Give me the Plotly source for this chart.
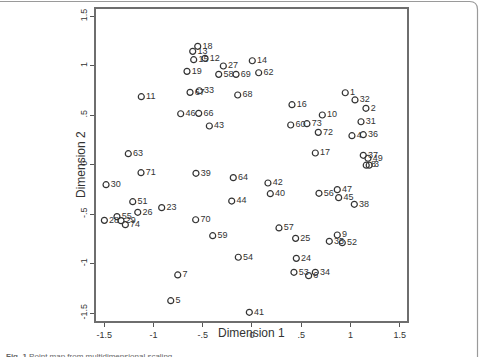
import plotly.graph_objects as go

labels = ["1","2","3","4","5","6","7","8","9","10","11","12","13","14","15","16","17","18","19",
          "23","24","25","26","27","28","29","30","31","32","33","34","35","36","37","38","39",
          "40","41","42","43","44","45","46","47","49","51","52","53","54","55","56","57","58",
          "59","60","62","63","64","66","67","68","69","70","71","72","73","74"]
dim1 = [0.947,1.157,1.19,1.015,-0.825,0.575,-0.754,1.16,0.866,0.714,-1.124,-0.477,-0.602,0.003,-0.592,0.406,0.643,-0.551,-0.66,
        -0.917,0.45,0.443,-1.16,-0.291,-1.499,-1.33,-1.482,1.107,1.046,-0.535,0.643,0.785,1.13,1.13,1.039,-0.569,
        0.186,-0.027,0.162,-0.433,-0.206,0.88,-0.724,0.866,1.178,-1.211,0.917,0.426,-0.139,-1.371,0.68,0.274,-0.338,
        -0.399,0.393,0.068,-1.256,-0.19,-0.541,-0.629,-0.145,-0.162,-0.572,-1.127,0.673,0.558,-1.286]
dim2 = [0.727,0.57,-0.005,0.293,-1.374,-1.121,-1.114,-0.005,-0.71,0.502,0.687,1.075,1.145,1.05,1.061,0.606,0.118,1.196,0.943,
        -0.434,-0.946,-0.744,-0.481,0.997,-0.562,-0.565,-0.202,0.434,0.654,0.747,-1.087,-0.774,0.303,0.095,-0.4,-0.087,
        -0.293,-1.491,-0.185,0.391,-0.367,-0.333,0.515,-0.252,0.065,-0.374,-0.788,-1.087,-0.935,-0.525,-0.289,-0.639,0.913,
        -0.717,0.401,0.929,0.111,-0.131,0.519,0.731,0.704,0.913,-0.556,-0.081,0.327,0.414,-0.606]

tick_vals = [-1.5, -1, -0.5, 0, 0.5, 1, 1.5]
tick_text = ["-1.5", "-1", "-.5", "0", ".5", "1", "1.5"]

fig = go.Figure()
fig.add_trace(go.Scatter(
    x=dim1, y=dim2, text=labels, mode="markers+text",
    textposition="middle right",
    textfont=dict(family="Liberation Sans, Arial", size=9, color="#333333"),
    marker=dict(symbol="circle-open", size=6, color="#333333", line=dict(width=1.2, color="#333333")),
    cliponaxis=False, hoverinfo="skip",
))

axis_common = dict(
    tickvals=tick_vals, ticktext=tick_text, showgrid=False, zeroline=False,
    showline=True, mirror=True, linecolor="#6e6e6e", linewidth=1.5,
    ticks="outside", ticklen=4, tickwidth=1, tickcolor="#555555", automargin=False,
    tickfont=dict(family="Liberation Sans, Arial", size=9, color="#333333"),
)

fig.update_xaxes(range=[-1.584, 1.574], **axis_common)
fig.update_yaxes(range=[-1.579, 1.573], tickangle=-90, **axis_common)

W, H = 479, 357
L, R, T, B = 96, 72, 9, 36
pw, ph = W - L - R, H - T - B

def px(x):
    return (x - L) / pw

def py(y):
    return (H - B - y) / ph

fig.add_annotation(x=px(251), y=py(342), xref="paper", yref="paper", text="Dimension 1",
                   showarrow=False, font=dict(family="Liberation Sans, Arial", size=12, color="#333333"))
fig.add_annotation(x=px(72), y=py(165), xref="paper", yref="paper", text="Dimension 2", textangle=-90,
                   showarrow=False, font=dict(family="Liberation Sans, Arial", size=12, color="#333333"))
fig.add_annotation(x=px(4), y=py(350.5), xref="paper", yref="paper", xanchor="left", yanchor="top",
                   text="<b>Fig. 1</b> Point map from multidimensional scaling",
                   showarrow=False, font=dict(family="Liberation Sans, Arial", size=8, color="#666666"))

# outer rounded frame
x0, x1, y0, y1, r = px(-10), px(477.5), py(1.5), py(380), 8
rx, ry = r / pw, r / ph
path = (f"M {x0},{y0} L {x1-rx},{y0} Q {x1},{y0} {x1},{y0-ry} "
        f"L {x1},{y1}")
fig.add_shape(type="path", path=path, xref="paper", yref="paper",
              line=dict(color="#9a9a9a", width=1.2))

fig.update_layout(
    width=W, height=H, margin=dict(l=L, r=R, t=T, b=B, autoexpand=False),
    plot_bgcolor="white", paper_bgcolor="white", showlegend=False,
)

fig.write_html("out.html")
